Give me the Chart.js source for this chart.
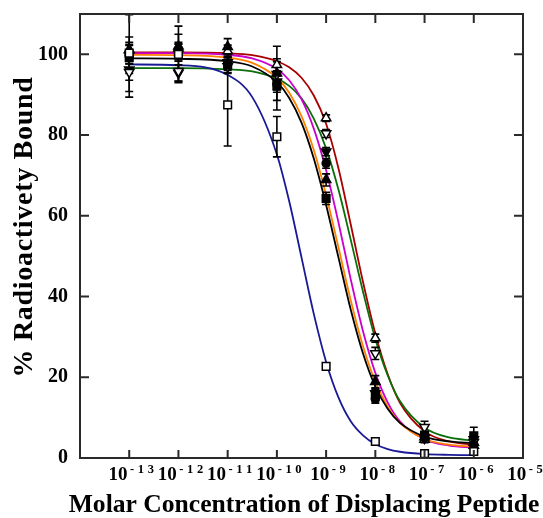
<!DOCTYPE html>
<html><head><meta charset="utf-8">
<script src="https://cdn.jsdelivr.net/npm/chart.js@4.4.1/dist/chart.umd.min.js"></script>
<style>html,body{margin:0;padding:0;background:#fff;}</style>
</head><body>
<canvas id="c" width="543" height="518"></canvas>
<script>
// ---- data ----
const concentrations = [1e-13, 1e-12, 1e-11, 1e-10, 1e-9, 1e-8, 1e-7, 1e-6];

const openSquare      = [100.3, 100.0, 87.5, 79.6, 22.7, 4.1, 1.1, 1.6];
const openSquareErr   = [9.5, 7.0, 10.2, 5.0, 0.8, 0.9, 0.5, 0.5];
const filledSquare    = [99.2, 100.6, 97.3, 92.2, 64.3, 15.6, 5.6, 5.5];
const filledSquareErr = [1.5, 2.0, 2.0, 6.0, 1.5, 1.4, 1.0, 2.1];
const filledTri       = [101.2, 102.0, 101.9, 95.3, 68.9, 18.9, 5.2, 3.8];
const filledTriErr    = [1.0, 3.0, 2.0, 6.7, 1.5, 1.5, 0.8, 0.8];
const filledCircle    = [99.8, 101.0, 97.6, 92.6, 73.0, 14.6, 5.0, 3.3];
const filledCircleErr = [4.5, 1.5, 1.5, 2.0, 1.2, 1.0, 0.8, 0.6];
const openInvTri      = [95.6, 95.8, 97.0, 95.1, 80.4, 25.9, 7.6, 3.9];
const openInvTriErr   = [2.0, 2.5, 1.5, 2.0, 1.0, 1.5, 1.5, 1.0];
const openTri         = [101.0, 101.5, 100.8, 97.4, 84.2, 29.7, 4.6, 3.1];
const openTriErr      = [1.5, 1.5, 1.5, 1.5, 0.8, 1.0, 0.8, 0.8];
const filledInvTri    = [96.2, 95.4, 98.0, 93.2, 75.9, 16.0, 4.9, 4.6];
const filledInvTriErr = [6.8, 2.0, 1.5, 2.0, 1.0, 1.2, 1.0, 1.0];

// fitted curves
const curveConc = [1e-13, 1e-12, 1e-11, 3.16e-11, 1e-10, 1.78e-10, 3.16e-10, 5.62e-10, 1e-9,
                   1.78e-9, 3.16e-9, 5.62e-9, 1e-8, 1.78e-8, 3.16e-8, 1e-7, 3.16e-7, 1e-6];
const blueFit    = [97.5, 97.3, 94.9, 89.4, 75.2, 63.6, 49.7, 35.7, 23.8, 15.0, 9.1, 5.6, 3.4, 2.2, 1.55, 0.96, 0.78, 0.72];
const blackFit   = [99.0, 98.9, 98.3, 97.0, 93.1, 89.2, 83.1, 74.2, 62.7, 49.7, 36.8, 25.9, 17.7, 12.2, 8.7, 5.3, 4.1, 3.7];
const orangeFit  = [99.9, 99.8, 99.2, 97.9, 94.2, 90.5, 84.7, 76.3, 65.1, 52.2, 39.1, 27.7, 18.9, 12.7, 8.7, 4.7, 3.3, 2.8];
const magentaFit = [100.3, 100.3, 99.9, 99.0, 96.4, 93.6, 88.9, 81.6, 71.3, 58.4, 44.3, 31.4, 21.1, 13.8, 9.1, 4.6, 3.1, 2.6];
const greenFit   = [96.6, 96.6, 96.3, 95.8, 94.0, 92.2, 89.1, 84.1, 76.7, 66.5, 54.1, 41.2, 29.5, 20.5, 14.1, 7.5, 5.1, 4.3];
const redFit     = [100.5, 100.5, 100.3, 99.8, 98.3, 96.8, 94.2, 89.8, 82.8, 71.8, 57.9, 43.6, 30.8, 20.8, 13.7, 6.6, 4.1, 3.3];

const xTickValues = [1e-13, 1e-12, 1e-11, 1e-10, 1e-9, 1e-8, 1e-7, 1e-6, 1e-5];
const xTickBase = '10';
const xTickExponents = ['-13', '-12', '-11', '-10', '-9', '-8', '-7', '-6', '-5'];
const yTickValues = [0, 20, 40, 60, 80, 100];
const xTitle = 'Molar Concentration of Displacing Peptide';
const yTitle = '% Radioactivety Bound';

// ---- build chart ----
const FONT = '"Liberation Serif", "Times New Roman", serif';
const pts = (xs, ys) => xs.map((x, i) => ({x: x, y: ys[i]}));

function markerSet(vals, errs, style, filled, rot) {
  return {
    data: pts(concentrations, vals), errors: errs, isMarker: true,
    pointStyle: style, rotation: rot || 0,
    pointRadius: style === 'circle' ? 4.0 : 5.4,
    pointBorderWidth: 1.5, borderColor: '#000', pointBorderColor: '#000',
    pointBackgroundColor: filled ? '#000' : '#fff', backgroundColor: filled ? '#000' : '#fff',
    showLine: false
  };
}
function curveSet(vals, color) {
  return {
    data: pts(curveConc, vals), showLine: true, pointRadius: 0, borderColor: color,
    borderWidth: 1.8, cubicInterpolationMode: 'monotone', fill: false
  };
}

const datasets = [
  markerSet(openSquare, openSquareErr, 'rect', false),
  markerSet(filledSquare, filledSquareErr, 'rect', true),
  markerSet(filledTri, filledTriErr, 'triangle', true),
  markerSet(filledCircle, filledCircleErr, 'circle', true),
  markerSet(openInvTri, openInvTriErr, 'triangle', false, 180),
  markerSet(openTri, openTriErr, 'triangle', false),
  markerSet(filledInvTri, filledInvTriErr, 'triangle', true, 180),
  curveSet(blueFit, '#1a1a96'),
  curveSet(blackFit, '#000000'),
  curveSet(orangeFit, '#ff8000'),
  curveSet(magentaFit, '#cc00cc'),
  curveSet(greenFit, '#0a6e0a'),
  curveSet(redFit, '#a80000')
];
const FIRST_CURVE = 7;

const errorBars = {
  id: 'errorBars',
  afterDatasetDraw(chart, args) {
    if (args.index !== FIRST_CURVE) return;
    const ctx = chart.ctx, xs = chart.scales.x, ys = chart.scales.y;
    ctx.save();
    ctx.strokeStyle = '#000'; ctx.lineWidth = 1.6;
    chart.data.datasets.forEach(ds => {
      if (!ds.isMarker) return;
      ds.data.forEach((p, i) => {
        const e = ds.errors[i];
        const px = xs.getPixelForValue(p.x);
        const y1 = ys.getPixelForValue(p.y + e), y2 = ys.getPixelForValue(p.y - e);
        ctx.beginPath();
        ctx.moveTo(px, y1); ctx.lineTo(px, y2);
        ctx.moveTo(px - 4, y1); ctx.lineTo(px + 4, y1);
        ctx.moveTo(px - 4, y2); ctx.lineTo(px + 4, y2);
        ctx.stroke();
      });
    });
    ctx.restore();
  }
};

const frame = {
  id: 'frame',
  afterDraw(chart) {
    const ctx = chart.ctx, a = chart.chartArea, xs = chart.scales.x, ys = chart.scales.y;
    ctx.save();
    ctx.strokeStyle = '#2a2a2a'; ctx.lineWidth = 2;
    ctx.strokeRect(a.left, a.top, a.right - a.left, a.bottom - a.top);
    ctx.beginPath();
    xTickValues.forEach(v => {
      const px = xs.getPixelForValue(v);
      ctx.moveTo(px, a.bottom); ctx.lineTo(px, a.bottom - 8);
      ctx.moveTo(px, a.top); ctx.lineTo(px, a.top + 9);
    });
    yTickValues.forEach(v => {
      const py = ys.getPixelForValue(v);
      ctx.moveTo(a.left, py); ctx.lineTo(a.left + 9, py);
      ctx.moveTo(a.right, py); ctx.lineTo(a.right - 9, py);
    });
    ctx.stroke();

    // x tick labels: "10" with a raised, spaced exponent
    ctx.fillStyle = '#000';
    ctx.textBaseline = 'alphabetic';
    ctx.textAlign = 'left';
    const baseFont = 'bold 19px ' + FONT, expFont = 'bold 12.5px ' + FONT;
    const gap = 3.6, baseline = a.bottom + 22;
    xTickValues.forEach((v, i) => {
      const px = xs.getPixelForValue(v);
      const chars = xTickExponents[i].split('');
      ctx.font = baseFont;
      const bw = ctx.measureText(xTickBase).width;
      ctx.font = expFont;
      const cw = chars.map(c => ctx.measureText(c).width);
      const total = bw + 2.5 + cw.reduce((s, w) => s + w, 0) + gap * (chars.length - 1);
      let x = px - total / 2 + 2;
      ctx.font = baseFont;
      ctx.fillText(xTickBase, x, baseline);
      x += bw + 2.5;
      ctx.font = expFont;
      chars.forEach((c, k) => { ctx.fillText(c, x, baseline - 7); x += cw[k] + gap; });
    });

    // axis titles
    ctx.textAlign = 'center';
    ctx.font = 'bold 25.6px ' + FONT;
    ctx.fillText(xTitle, (a.left + a.right) / 2 + 2.5, 512);
    ctx.save();
    ctx.translate(25, 227);
    ctx.rotate(-Math.PI / 2);
    ctx.textBaseline = 'middle';
    ctx.letterSpacing = '0.7px';
    ctx.font = 'bold 28px ' + FONT;
    ctx.fillText(yTitle, 0, 0);
    ctx.restore();
    ctx.restore();
  }
};

new Chart(document.getElementById('c'), {
  type: 'scatter',
  data: { datasets: datasets },
  options: {
    responsive: false, animation: false, devicePixelRatio: 1,
    layout: { padding: { left: 0, right: 20, top: 14, bottom: 0 } },
    plugins: { legend: { display: false }, tooltip: { enabled: false } },
    scales: {
      x: {
        type: 'logarithmic', min: 1e-14, max: 1e-5,
        afterBuildTicks: s => { s.ticks = xTickValues.map(v => ({ value: v })); },
        afterFit: s => { s.height = 60; s.paddingLeft = 0; s.paddingRight = 0; },
        grid: { display: false }, border: { display: false },
        ticks: { display: false, autoSkip: false, maxRotation: 0, minRotation: 0 },
        title: { display: false, text: xTitle }
      },
      y: {
        type: 'linear', min: 0, max: 110,
        afterBuildTicks: s => { s.ticks = yTickValues.map(v => ({ value: v })); },
        afterFit: s => { s.width = 80; s.paddingTop = 0; s.paddingBottom = 0; },
        grid: { display: false }, border: { display: false },
        ticks: {
          padding: 4, color: '#000',
          font: { family: FONT, weight: 'bold', size: 20 }
        },
        title: { display: false, text: yTitle }
      }
    }
  },
  plugins: [errorBars, frame]
});
</script>
</body></html>
